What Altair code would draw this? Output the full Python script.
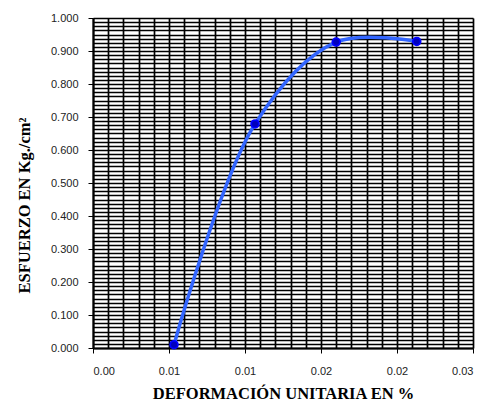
import altair as alt
import pandas as pd

# Data
deformacion = [0.00533, 0.01066, 0.0160, 0.0213]
esfuerzo = [0.010, 0.679, 0.927, 0.929]

x_tick_values = [0.0, 0.005, 0.010, 0.015, 0.020, 0.025]
x_tick_labels = ["0.00", "0.01", "0.01", "0.02", "0.02", "0.03"]
y_tick_values = [0.0, 0.1, 0.2, 0.3, 0.4, 0.5, 0.6, 0.7, 0.8, 0.9, 1.0]

df = pd.DataFrame({"x": deformacion, "y": esfuerzo})

# minor grid positions (axis styling)
x_grid = [round(i * 0.001, 4) for i in range(0, 26)]
y_grid = [round(i * 0.0125, 4) for i in range(0, 81)]

label_arr = "[" + ",".join('"%s"' % s for s in x_tick_labels) + "]"

xscale = alt.Scale(domain=[0, 0.025], nice=False, zero=False)
yscale = alt.Scale(domain=[0, 1.0], nice=False)

base = alt.Chart(df)

grid = base.mark_point(opacity=0).encode(
    x=alt.X("x:Q", scale=xscale, axis=alt.Axis(
        orient="top", values=x_grid, grid=True, labels=False, ticks=False,
        domain=False, title=None, gridColor="#000000", gridWidth=1.7, gridOpacity=1)),
    y=alt.Y("y:Q", scale=yscale, axis=alt.Axis(
        orient="right", values=y_grid, grid=True, labels=False, ticks=False,
        domain=False, title=None, gridColor="#000000", gridWidth=1.4, gridOpacity=1)),
)

xaxis = alt.Axis(
    orient="bottom", values=x_tick_values, grid=False,
    labelExpr=label_arr + "[round(datum.value/0.005)]",
    labelFont="Liberation Sans", labelFontSize=11, labelColor="#222222",
    labelPadding=12, tickSize=5, tickColor="#000000", domainColor="#000000", domainWidth=2,
    title="DEFORMACIÓN UNITARIA EN %", titleFont="Liberation Serif", titleFontSize=16.5,
    titleFontWeight="bold", titleColor="#000000", titlePadding=9,
)
yaxis = alt.Axis(
    orient="left", values=y_tick_values, grid=False, format=".3f",
    labelFont="Liberation Sans", labelFontSize=11, labelColor="#222222",
    labelPadding=10, tickSize=5, tickColor="#000000", domainColor="#000000", domainWidth=2,
    title="ESFUERZO EN Kg./cm²", titleFont="Liberation Serif", titleFontSize=16.5,
    titleFontWeight="bold", titleColor="#000000", titlePadding=18, titleY=187,
)

line = base.mark_line(interpolate="catmull-rom", color="#3366ff", strokeWidth=3.5).encode(
    x=alt.X("x:Q", scale=xscale, axis=xaxis),
    y=alt.Y("y:Q", scale=yscale, axis=yaxis),
)
points = base.mark_point(filled=True, shape="circle", size=60, color="#0000bb",
                         stroke="#0000ff", strokeWidth=1.8, opacity=1).encode(
    x=alt.X("x:Q", scale=xscale, axis=None),
    y=alt.Y("y:Q", scale=yscale, axis=None),
)

chart = alt.layer(grid, line, points).resolve_axis(x="independent", y="independent").properties(
    width=380, height=330,
    padding={"left": 85, "top": 10, "right": 6, "bottom": 53},
    autosize=alt.AutoSizeParams(type="none"),
).configure_view(stroke="#000000", strokeWidth=2).configure(background="white")

chart.save("out.html", embed_options={"renderer": "svg", "actions": False})
